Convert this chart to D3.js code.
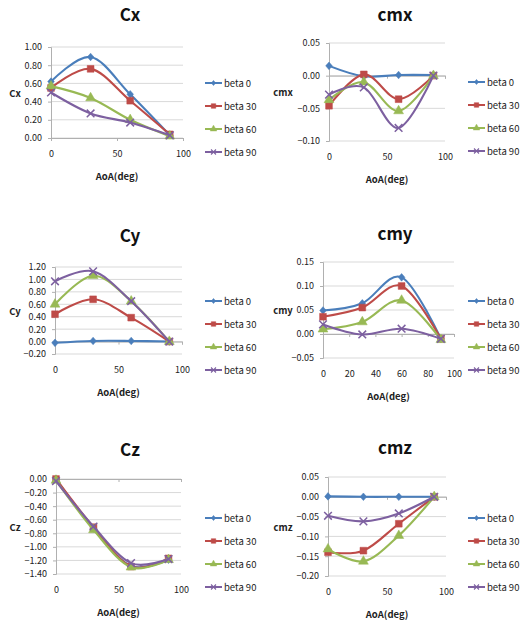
<!DOCTYPE html>
<html><head><meta charset="utf-8">
<script src="https://cdn.jsdelivr.net/npm/d3@7"></script>
<style>body{margin:0;background:#fff}svg{display:block}</style>
</head><body>
<svg id="chart" width="520" height="620"></svg>
<script>
// ---- data ----
const aoa = [0, 30, 60, 90];
const seriesNames = ["beta 0", "beta 30", "beta 60", "beta 90"];

const cxValues = [
  [0.62, 0.89, 0.48, 0.03],
  [0.55, 0.76, 0.41, 0.04],
  [0.57, 0.44, 0.20, 0.02],
  [0.50, 0.27, 0.17, 0.03]
];
const cmxValues = [
  [0.015, -0.001, 0.001, 0.001],
  [-0.046, 0.002, -0.036, 0.000],
  [-0.037, -0.010, -0.054, 0.000],
  [-0.029, -0.018, -0.080, 0.000]
];
const cyValues = [
  [-0.02, 0.01, 0.01, 0.00],
  [0.44, 0.68, 0.385, 0.00],
  [0.60, 1.06, 0.65, 0.00],
  [0.97, 1.13, 0.65, 0.00]
];
const cmyValues = [
  [0.049, 0.064, 0.118, -0.010],
  [0.036, 0.055, 0.100, -0.010],
  [0.010, 0.025, 0.070, -0.012],
  [0.020, -0.001, 0.011, -0.010]
];
const czValues = [
  [0.00, -0.73, -1.28, -1.19],
  [0.00, -0.71, -1.29, -1.17],
  [-0.02, -0.75, -1.30, -1.19],
  [-0.03, -0.70, -1.24, -1.18]
];
const cmzValues = [
  [0.001, 0.000, 0.000, 0.000],
  [-0.140, -0.136, -0.068, 0.000],
  [-0.132, -0.163, -0.098, 0.000],
  [-0.048, -0.062, -0.042, 0.000]
];
const xTicksCoarse = [0, 50, 100];
const xTicksFine = [0, 20, 40, 60, 80, 100];

// ---- styles ----
const colors = ["#4A7EBB", "#BE4B48", "#98B954", "#7D60A0"];
const excelDiamond = {
  draw(ctx, size) {
    const w = Math.sqrt(size) * 0.5, h = w * 1.15;
    ctx.moveTo(0, -h); ctx.lineTo(w, 0); ctx.lineTo(0, h); ctx.lineTo(-w, 0); ctx.closePath();
  }
};
const symbols = [excelDiamond, d3.symbolSquare, d3.symbolTriangle, d3.symbolX];
const symSize = [44, 46, 42, 40];
const FONT = "'Noto Sans CJK KR','Noto Sans',sans-serif";

const panels = [
  {title: "Cx", ylab: "Cx", vals: cxValues, ydom: [0, 1.0], ystep: 0.2, xt: xTicksCoarse,
   l: 51, r: 183, t: 47, b: 138, ty: 21, col: 0, lgy: 83},
  {title: "cmx", ylab: "cmx", vals: cmxValues, ydom: [-0.10, 0.05], ystep: 0.05, xt: xTicksCoarse,
   l: 329, r: 445, t: 43, b: 141, ty: 21, col: 1, lgy: 82},
  {title: "Cy", ylab: "Cy", vals: cyValues, ydom: [-0.2, 1.2], ystep: 0.2, xt: xTicksCoarse,
   l: 55, r: 182, t: 267, b: 354, ty: 242, col: 0, lgy: 301},
  {title: "cmy", ylab: "cmy", vals: cmyValues, ydom: [-0.05, 0.15], ystep: 0.05, xt: xTicksFine,
   l: 323, r: 454, t: 262, b: 358, ty: 240, col: 1, lgy: 301},
  {title: "Cz", ylab: "Cz", vals: czValues, ydom: [-1.4, 0], ystep: 0.2, xt: xTicksCoarse,
   l: 56, r: 181, t: 479, b: 574, ty: 456, col: 0, lgy: 518},
  {title: "cmz", ylab: "cmz", vals: cmzValues, ydom: [-0.20, 0.05], ystep: 0.05, xt: xTicksCoarse,
   l: 328, r: 446, t: 477, b: 576, ty: 454, col: 1, lgy: 518}
];

const svg = d3.select("#chart");
svg.append("rect").attr("width", 520).attr("height", 620).attr("fill", "#fff");

panels.forEach(p => {
  const g = svg.append("g");
  const colX = p.col === 0 ? 0 : 260;
  const x = d3.scaleLinear().domain([0, 100]).range([p.l, p.r]);
  const y = d3.scaleLinear().domain(p.ydom).range([p.b, p.t]);
  const n = Math.round((p.ydom[1] - p.ydom[0]) / p.ystep);
  const yt = d3.range(n + 1).map(i => +(p.ydom[0] + i * p.ystep).toFixed(4));

  // gridlines
  g.selectAll(".grid").data(yt).join("line")
    .attr("x1", p.l).attr("x2", p.r)
    .attr("y1", d => y(d)).attr("y2", d => y(d))
    .attr("stroke", "#D9D9D9").attr("stroke-width", 1);

  // y axis
  const yAxis = d3.axisLeft(y).tickValues(yt).tickFormat(d3.format(".2f")).tickSize(3).tickPadding(6);
  const ya = g.append("g").attr("transform", `translate(${p.l},0)`).call(yAxis);
  ya.select(".domain").attr("stroke", "#B0B0B0");
  ya.selectAll(".tick line").attr("stroke", "#B0B0B0");
  ya.selectAll("text").attr("font-family", FONT).attr("font-size", 9).attr("fill", "#222");

  // x axis line at y=0 with ticks, labels at bottom
  const y0 = y(0);
  const xAxisLine = d3.axisBottom(x).tickValues(p.xt).tickSize(3).tickFormat("");
  const xa = g.append("g").attr("transform", `translate(0,${y0})`).call(xAxisLine);
  xa.select(".domain").attr("stroke", "#B0B0B0");
  xa.selectAll(".tick line").attr("stroke", "#B0B0B0");
  const xLab = d3.axisBottom(x).tickValues(p.xt).tickSize(0).tickPadding(13);
  const xl = g.append("g").attr("transform", `translate(0,${p.b})`).call(xLab);
  xl.select(".domain").remove();
  xl.selectAll("text").attr("font-family", FONT).attr("font-size", 9).attr("fill", "#222");

  // titles
  g.append("text").attr("x", colX + 130 + (p.col ? 5 : 0)).attr("y", p.ty)
    .attr("text-anchor", "middle").attr("font-family", FONT)
    .attr("font-weight", "bold").attr("font-size", 17).attr("fill", "#111").text(p.title);
  g.append("text").attr("x", (p.l + p.r) / 2).attr("y", p.b + 42)
    .attr("text-anchor", "middle").attr("font-family", FONT)
    .attr("font-weight", "bold").attr("font-size", 9.5).attr("fill", "#222").text("AoA(deg)");
  g.append("text").attr("x", colX + (p.col ? 23 : 15)).attr("y", (p.t + p.b) / 2 + 4)
    .attr("text-anchor", "middle").attr("font-family", FONT)
    .attr("font-weight", "bold").attr("font-size", 9.5).attr("fill", "#222").text(p.ylab);

  // series
  const line = d3.line().x((d, i) => x(aoa[i])).y(d => y(d)).curve(d3.curveCardinal);
  p.vals.forEach((vals, si) => {
    g.append("path").attr("d", line(vals)).attr("fill", "none")
      .attr("stroke", colors[si]).attr("stroke-width", 2.1);
    g.selectAll(null).data(vals).join("path")
      .attr("transform", (d, i) => `translate(${x(aoa[i])},${y(d)})`)
      .attr("d", d3.symbol().type(symbols[si]).size(symSize[si]))
      .attr("fill", si === 3 ? "none" : colors[si])
      .attr("stroke", colors[si]).attr("stroke-width", si === 3 ? 1.5 : 0.5);
  });

  // legend
  const lx = colX + (p.col ? 208 : 205);
  seriesNames.forEach((name, si) => {
    const ly = p.lgy + si * 23;
    g.append("line").attr("x1", lx).attr("x2", lx + 17).attr("y1", ly).attr("y2", ly)
      .attr("stroke", colors[si]).attr("stroke-width", 2);
    g.append("path").attr("transform", `translate(${lx + 8.5},${ly})`)
      .attr("d", d3.symbol().type(symbols[si]).size(symSize[si] * 0.45))
      .attr("fill", si === 3 ? "none" : colors[si])
      .attr("stroke", colors[si]).attr("stroke-width", si === 3 ? 1.1 : 0.5);
    g.append("text").attr("x", lx + 19).attr("y", ly + 3.5)
      .attr("font-family", FONT).attr("font-size", 9.5).attr("fill", "#222").text(name);
  });
});
</script>
</body></html>
